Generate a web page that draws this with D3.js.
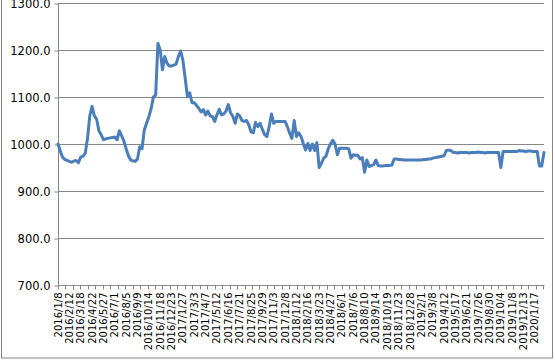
<!DOCTYPE html>
<html>
<head>
<meta charset="utf-8">
<script src="https://cdn.jsdelivr.net/npm/d3@7"></script>
<style>
  body { margin: 0; background: #fff; }
  svg { display: block; }
</style>
</head>
<body>
<div id="chart"></div>
<script>
// weekly values, first point 2016/1/8
var startDate = "2016/1/8";
var values = [
  1000, 985, 972, 967, 965, 963, 961, 964, 965, 960,
  972, 974, 980, 1012, 1060, 1080, 1060, 1053, 1028, 1020,
  1009, 1011, 1012, 1013, 1014, 1015, 1009, 1028, 1018, 1006,
  990, 975, 966, 964, 963, 968, 994, 990, 1030, 1044,
  1058, 1075, 1100, 1104, 1214, 1200, 1158, 1186, 1172, 1166,
  1166, 1168, 1170, 1186, 1198, 1178, 1140, 1101, 1109, 1088,
  1088, 1082, 1076, 1068, 1073, 1062, 1070, 1060, 1058, 1048,
  1062, 1074, 1062, 1064, 1070, 1084, 1066, 1059, 1044, 1064,
  1060, 1050, 1048, 1050, 1041, 1026, 1024, 1046, 1037, 1044,
  1031, 1020, 1016, 1037, 1064, 1044, 1048, 1048, 1048, 1048,
  1048, 1037, 1023, 1012, 1050, 1016, 1024, 1016, 1001, 987,
  1001, 986, 1000, 986, 1003, 950, 959, 970, 974, 990,
  1000, 1008, 1000, 977, 991, 991, 991, 991, 990, 970,
  977, 976, 976, 968, 971, 940, 966, 952, 954, 956,
  966, 954, 953, 953, 954, 954, 954, 955, 968, 968,
  967, 967, 966, 966, 966, 966, 966, 966, 966, 966,
  966, 967, 967, 968, 968, 970, 971, 972, 973, 974,
  975, 986, 987, 986, 982, 982, 981, 982, 982, 982,
  982, 981, 982, 982, 982, 983, 982, 982, 981, 982,
  982, 982, 982, 982, 982, 950, 984, 984, 984, 984,
  984, 984, 984, 986, 985, 985, 984, 985, 985, 984,
  984, 984, 953, 953, 982
];
var xLabels = [
  "2016/1/8", "2016/2/12", "2016/3/18", "2016/4/22", "2016/5/27", "2016/7/1",
  "2016/8/5", "2016/9/9", "2016/10/14", "2016/11/18", "2016/12/23",
  "2017/1/27", "2017/3/3", "2017/4/7", "2017/5/12", "2017/6/16", "2017/7/21",
  "2017/8/25", "2017/9/29", "2017/11/3", "2017/12/8",
  "2018/1/12", "2018/2/16", "2018/3/23", "2018/4/27", "2018/6/1", "2018/7/6",
  "2018/8/10", "2018/9/14", "2018/10/19", "2018/11/23", "2018/12/28",
  "2019/2/1", "2019/3/8", "2019/4/12", "2019/5/17", "2019/6/21", "2019/7/26",
  "2019/8/30", "2019/10/4", "2019/11/8", "2019/12/13", "2020/1/17"
];
var yTicks = [700, 800, 900, 1000, 1100, 1200, 1300];

var W = 555, H = 360;
var plotL = 58, plotR = 544, plotT = 3, plotB = 285;
var parse = d3.timeParse("%Y/%-m/%-d");
var t0 = parse(startDate);

var data = values.map(function (v, i) {
  return { date: d3.timeDay.offset(t0, 7 * i), value: v };
});

var x = d3.scaleTime()
  .domain([t0, data[data.length - 1].date])
  .range([plotL, plotR]);
var y = d3.scaleLinear().domain([700, 1300]).range([plotB, plotT]);

var svg = d3.select("#chart").append("svg")
  .attr("width", W)
  .attr("height", H);

// chart border
svg.append("rect")
  .attr("x", 1.5).attr("y", -5)
  .attr("width", 551).attr("height", 363)
  .attr("fill", "#fff")
  .attr("stroke", "#868686");

// gridlines
svg.append("g")
  .selectAll("line")
  .data(yTicks.filter(function (d) { return d > 700; }))
  .enter().append("line")
  .attr("x1", plotL).attr("x2", plotR)
  .attr("y1", function (d) { return Math.round(y(d)) + 0.5; })
  .attr("y2", function (d) { return Math.round(y(d)) + 0.5; })
  .attr("stroke", "#868686");

// y axis
var yAxis = svg.append("g")
  .attr("transform", "translate(" + (plotL + 0.5) + ",0.5)")
  .call(d3.axisLeft(y).tickValues(yTicks).tickSize(4).tickPadding(4)
    .tickFormat(d3.format(".1f")));
yAxis.selectAll("path, line").attr("stroke", "#868686");
yAxis.select(".domain").attr("d", "M0," + Math.round(plotT) + "V" + plotB);
yAxis.selectAll("text")
  .attr("fill", "#000")
  .style("font-family", "DejaVu Sans, sans-serif")
  .style("font-size", "11.5px");

// x axis: tick marks every 23 days, labels every 35 days
var tickDates = d3.timeDay.range(t0, d3.timeDay.offset(x.domain()[1], 1))
  .filter(function (d, i) { return i % 23 === 0; });
var xg = svg.append("g").attr("transform", "translate(0," + (plotB + 0.5) + ")");
xg.append("line")
  .attr("x1", plotL).attr("x2", plotR + 0.5)
  .attr("stroke", "#868686");
xg.selectAll(".tk")
  .data(tickDates)
  .enter().append("line")
  .attr("class", "tk")
  .attr("x1", function (d) { return Math.round(x(d)) + 0.5; })
  .attr("x2", function (d) { return Math.round(x(d)) + 0.5; })
  .attr("y1", 0).attr("y2", 4)
  .attr("stroke", "#868686");
xg.selectAll(".lbl")
  .data(xLabels)
  .enter().append("text")
  .attr("class", "lbl")
  .attr("transform", function (d) {
    return "translate(" + x(parse(d)) + ",7) rotate(-90)";
  })
  .attr("text-anchor", "end")
  .attr("dy", "0.35em")
  .style("font-family", "DejaVu Sans, sans-serif")
  .style("font-size", "10px")
  .attr("fill", "#000")
  .text(function (d) { return d; });

// series
var line = d3.line()
  .x(function (d) { return x(d.date); })
  .y(function (d) { return y(d.value); });

svg.append("path")
  .datum(data)
  .attr("d", line)
  .attr("fill", "none")
  .attr("stroke", "#4A7EBB")
  .attr("stroke-width", 3)
  .attr("stroke-linejoin", "round")
  .attr("stroke-linecap", "round");
</script>
</body>
</html>
